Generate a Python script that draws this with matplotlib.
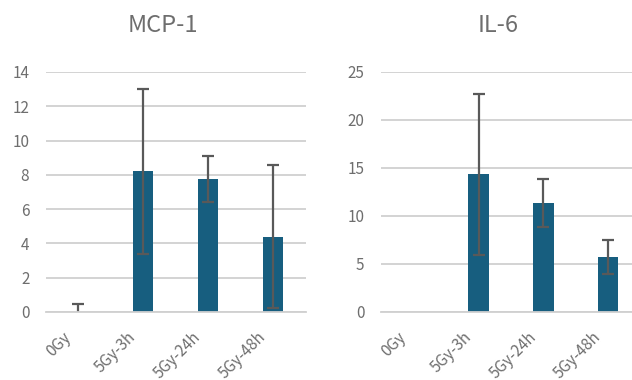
import matplotlib
matplotlib.use('Agg')
import matplotlib.pyplot as plt
import matplotlib.transforms as mtrans
import numpy as np

plt.rcParams['font.family'] = ['Noto Sans CJK JP', 'DejaVu Sans']

grupos = ['0Gy', '5Gy-3h', '5Gy-24h', '5Gy-48h']

mcp1 = [0.0, 8.2, 7.75, 4.4]
mcp1_err = [0.45, 4.8, 1.35, 4.15]

il6 = [0.0, 14.35, 11.4, 5.72]
il6_err = [0.0, 8.4, 2.5, 1.75]

cor_barra = '#175e7f'
cor_texto = '#6e6e6e'
cor_erro = '#595959'
cor_grade = '#d0d0d0'

fig = plt.figure(figsize=(6.32, 3.8), dpi=100)

paineis = [
    ('MCP-1', mcp1, mcp1_err, 14, 2, [0.0728, 0.179, 0.411, 0.6316], 163),
    ('IL-6', il6, il6_err, 25, 5, [0.603, 0.179, 0.411, 0.6316], 498),
]

desloc = mtrans.ScaledTranslation(-16 / 100, -3 / 100, fig.dpi_scale_trans)

for titulo, vals, errs, ymax, passo, pos, xt in paineis:
    ax = fig.add_axes(pos)
    x = np.arange(len(grupos))
    ax.bar(x, vals, width=0.31, color=cor_barra, zorder=3)
    # skip zero errors so no stray cap is drawn on the axis
    com_erro = [i for i in range(len(errs)) if errs[i] > 0]
    ax.errorbar(x[com_erro], np.array(vals)[com_erro], yerr=np.array(errs)[com_erro],
                fmt='none', ecolor=cor_erro, elinewidth=1.6, capsize=4,
                capthick=1.6, zorder=4)
    ax.set_xlim(-0.5, len(grupos) - 0.5)
    ax.set_ylim(0, ymax)
    ax.set_yticks(np.arange(0, ymax + 0.1, passo))
    ax.yaxis.grid(True, color=cor_grade, linewidth=1.3, zorder=0)
    for s in ['top', 'right', 'left']:
        ax.spines[s].set_visible(False)
    ax.spines['bottom'].set_color(cor_grade)
    ax.spines['bottom'].set_linewidth(1.3)
    ax.spines['bottom'].set_zorder(5)
    ax.tick_params(axis='both', length=0, colors=cor_texto, labelsize=11)
    ax.tick_params(axis='y', pad=12)
    ax.set_xticks(x)
    ax.set_xticklabels(grupos, rotation=45, ha='right', rotation_mode='anchor')
    ax.tick_params(axis='x', pad=10)
    for lab in ax.get_xticklabels():
        lab.set_transform(lab.get_transform() + desloc)
    fig.text(xt / 632, 1 - 25 / 380, titulo, ha='center', va='center',
             fontsize=17, color=cor_texto)

fig.savefig('out.png', dpi=100)
